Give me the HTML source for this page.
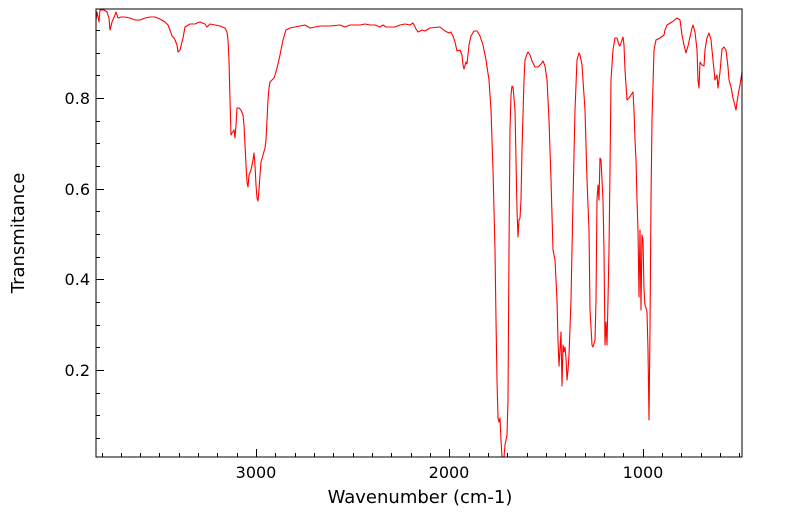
<!DOCTYPE html>
<html><head><meta charset="utf-8"><style>body{margin:0;background:#fff}svg{display:block;font-family:"DejaVu Sans","Liberation Sans",sans-serif}</style></head><body>
<svg width="799" height="516" viewBox="0 0 799 516" xmlns="http://www.w3.org/2000/svg">
<rect width="799" height="516" fill="#fff"/>
<polyline fill="none" stroke="#ff0000" stroke-width="1.1" stroke-linejoin="round" points="96,20 97,12 99,22 100,10 104,10 107,12 109,18 110,30 112,22 115,15 116,12 118,18 121,17 125,17 130,18 135,20 140,20 145,18 150,17 155,17 160,19 165,22 168,25 170,30 172,36 174,38 175,40 177,45 178,52 180,50 183,38 185,27 190,24 195,24 197,23 200,22 205,24 207,27 210,24 215,25 220,26 225,28 227,32 228,40 229,60 230,100 231,135 232,133 234,130 235,138 236,125 237,108 239,108 241,110 243,115 244,125 245,145 246,165 247,182 248,187 249,175 251,170 253,160 254,153 255,165 256,185 257,198 258,201 259,190 260,175 261,162 263,155 265,148 266,140 268,100 269,88 270,82 272,80 274,78 275,75 277,68 280,55 283,40 286,30 290,28 295,27 300,26 305,25 310,28 315,27 320,26 330,26 340,25 345,27 350,25 360,25 365,24 370,25 375,25 380,27 383,25 386,27 395,27 400,25 405,24 410,25 413,23 416,29 418,32 422,30 425,31 430,28 440,27 445,31 449,33 451,32 453,36 455,42 457,51 460,50 462,55 463,65 464,69 466,62 467,64 469,45 471,36 474,31 477,31 480,36 483,45 486,60 489,80 491,110 493,170 495,250 496,320 497,380 498,418 499,422 500,418 501,440 502,457 504,457 505,445 507,435 508,400 509,250 510,130 511,95 512,86 513,87 515,110 516,160 517,210 518,237 519,220 520,218 521,200 522,150 524,80 525,60 527,54 528,52 530,55 532,61 535,67 538,67 541,64 543,61 545,66 547,80 549,120 551,180 553,250 555,260 557,300 558,340 559,366 560,350 561,332 562,386 563,345 564,352 565,347 566,358 567,380 568,370 569,355 571,300 573,200 575,110 577,60 579,53 580,55 582,65 585,110 587,180 589,230 590,310 592,345 593,347 595,340 596,300 597,200 598,185 599,200 600,158 601,160 603,200 604,250 605,345 606,322 607,345 608,300 609,250 610,170 611,80 613,50 615,38 617,38 619,45 620,46 622,40 623,37 624,45 625,70 627,100 629,98 631,95 633,92 634,110 635,140 636,160 637,200 638,230 639,297 640,230 641,310 642,235 643,240 644,290 645,305 646,308 647,312 648,350 649,420 650,330 651,200 652,120 654,50 656,40 660,38 664,35 665,30 667,25 672,22 677,18 680,20 682,35 684,45 686,53 688,46 692,28 693,25 695,32 697,50 698,80 699,88 700,62 702,65 704,66 705,50 707,38 709,33 711,40 713,60 715,80 717,75 718,88 720,72 722,49 724,47 726,50 728,67 729,80 731,87 733,98 736,110 737,102 739,90 740,85 742,72"/>
<rect x="96" y="9" width="646" height="448" fill="none" stroke="#000" stroke-width="1"/>
<g font-size="16" fill="#000">
<text x="90" y="104" text-anchor="end">0.8</text>
<text x="90" y="195" text-anchor="end">0.6</text>
<text x="90" y="285" text-anchor="end">0.4</text>
<text x="90" y="376" text-anchor="end">0.2</text>
<text x="256" y="478" text-anchor="middle">3000</text>
<text x="449" y="478" text-anchor="middle">2000</text>
<text x="643" y="478" text-anchor="middle">1000</text>
<text x="420" y="503" text-anchor="middle" font-size="18">Wavenumber (cm-1)</text>
<text transform="translate(24,233) rotate(-90)" text-anchor="middle" font-size="18">Transmitance</text>
</g>
<g stroke="#000" stroke-width="1">
<path d="M96,98.5h8M96,189.5h8M96,279.5h8M96,370.5h8
M96,30.5h4M96,53.5h4M96,75.5h4M96,121.5h4M96,143.5h4M96,166.5h4M96,211.5h4M96,234.5h4M96,257.5h4M96,302.5h4M96,325.5h4M96,347.5h4M96,393.5h4M96,415.5h4M96,438.5h4
M256.5,457v-8M449.5,457v-8M643.5,457v-8
M102.5,457v-4M121.5,457v-4M140.5,457v-4M159.5,457v-4M179.5,457v-4M198.5,457v-4M217.5,457v-4M237.5,457v-4M275.5,457v-4M295.5,457v-4M314.5,457v-4M333.5,457v-4M353.5,457v-4M372.5,457v-4M391.5,457v-4M411.5,457v-4M430.5,457v-4M469.5,457v-4M488.5,457v-4M507.5,457v-4M527.5,457v-4M546.5,457v-4M565.5,457v-4M585.5,457v-4M604.5,457v-4M623.5,457v-4M662.5,457v-4M681.5,457v-4M701.5,457v-4M720.5,457v-4M739.5,457v-4"/>
</g>
</svg>
</body></html>
